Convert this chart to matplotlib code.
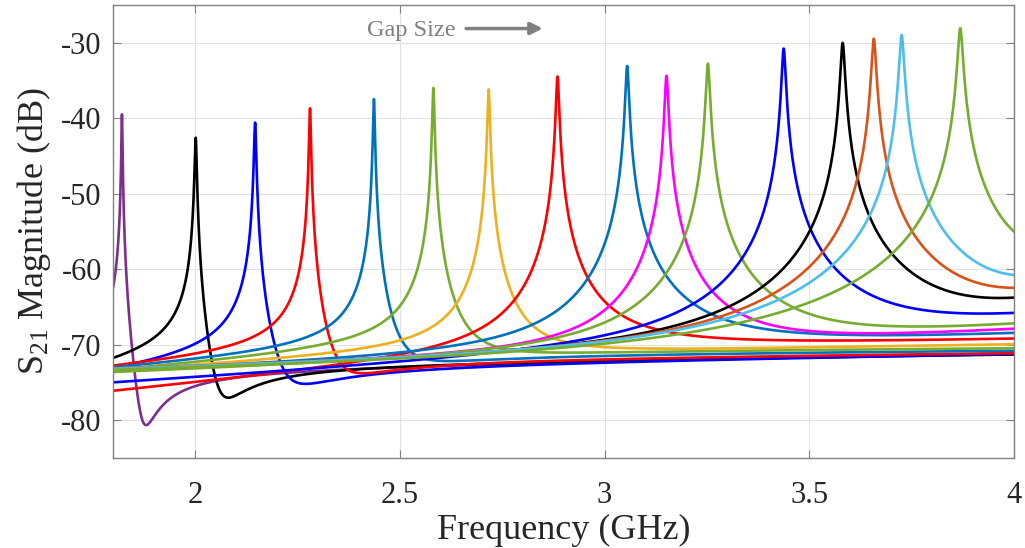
"""
S21 magnitude of the resonator for a sweep of gap sizes.
Every trace is rebuilt from values read off the measured plot:
resonance frequency, peak level, loaded Q, background phase and
background level at 1.8 GHz, under the peak and at 4 GHz.
"""

import numpy as np
import matplotlib

matplotlib.use("Agg")
import matplotlib.pyplot as plt

# ===================== DATA =====================
F_START, F_STOP = 1.8, 4.0

# resonance frequency (GHz), one per gap size
f_res = [1.822, 2.002, 2.147, 2.281, 2.437, 2.582, 2.717, 2.885,
         3.055, 3.151, 3.252, 3.437, 3.581, 3.657, 3.725, 3.868]
# peak level (dB)
peak_db = [-39.5, -42.6, -40.6, -38.7, -37.5, -36.0, -36.2, -34.5,
           -33.1, -34.4, -32.8, -30.8, -30.05, -29.5, -29.0, -28.1]
# loaded Q (sets the peak width / where the dip falls)
q_loaded = [800, 470, 490, 620, 650, 600, 550, 450,
            420, 420, 400, 420, 390, 380, 370, 360]
# phase of the background relative to the resonance (deg) -> dip depth
phase_deg = [67, 56.6, 45, 40, 30, 20, 10, 0,
             0, 0, 0, 0, 0, 0, 0, 0]
# background level (dB) at 1.8 GHz, under the peak, at 4 GHz
base_left_db = [-73.0, -74.2, -74.8, -73.8, -73.7, -73.9, -73.7, -76.4,
                -73.6, -73.5, -73.8, -75.3, -73.5, -73.4, -73.5, -73.7]
base_mid_db = [-72.9, -72.2, -72.4, -71.6, -71.0, -70.6, -70.8, -70.6,
               -70.8, -70.9, -70.9, -70.1, -71.0, -71.0, -71.0, -71.3]
base_right_db = [-70.9, -71.0, -70.9, -70.8, -70.5, -70.2, -69.8, -69.3,
                 -68.7, -68.1, -67.6, -66.7, -65.4, -64.9, -64.2, -63.6]

colors = ["#7E2F8E", "#000000", "#0000FF", "#FF0000", "#0072BD", "#77AC30",
          "#EDB120", "#FF0000", "#0072BD", "#FF00FF", "#77AC30", "#0000FF",
          "#000000", "#D95319", "#4DBEEE", "#77AC30"]

X_TICKS = [2, 2.5, 3, 3.5, 4]
X_TICKLABELS = ["2", "2.5", "3", "3.5", "4"]
Y_TICKS = [-80, -70, -60, -50, -40, -30]
# ================================================

plt.rcParams["font.family"] = ["Liberation Serif", "DejaVu Serif"]
plt.rcParams["mathtext.fontset"] = "custom"
plt.rcParams["mathtext.rm"] = "Liberation Serif"
plt.rcParams["mathtext.it"] = "Liberation Serif:italic"
plt.rcParams["axes.unicode_minus"] = False


def s21_db(freq, f0, pk, q, phi, bl, bm, br):
    # background (linear in dB through three points) + resonance
    b = 10 ** (np.interp(freq, [F_START, f0, F_STOP], [bl, bm, br]) / 20)
    ph = np.deg2rad(phi)
    p = 10 ** (pk / 20)
    b0 = 10 ** (bm / 20)
    a = np.sqrt(p ** 2 - (b0 * np.sin(ph)) ** 2) - b0 * np.cos(ph)
    res = a / (1 + 1j * q * (freq / f0 - f0 / freq))
    return 20 * np.log10(np.abs(b * np.exp(1j * ph) + res))


freq = np.linspace(F_START, F_STOP, 8801)

fig = plt.figure(figsize=(10.25, 5.48), dpi=100)
ax = fig.add_axes([0.1102, 0.1637, 0.8794, 0.8277])

for i in range(len(f_res)):
    y = s21_db(freq, f_res[i], peak_db[i], q_loaded[i], phase_deg[i],
               base_left_db[i], base_mid_db[i], base_right_db[i])
    ax.plot(freq, y, color=colors[i], linewidth=1.9)

ax.set_xlim(F_START, F_STOP)
ax.set_ylim(-85, -25)
ax.set_xticks(X_TICKS)
ax.set_xticklabels(X_TICKLABELS)
ax.set_yticks(Y_TICKS)
ax.grid(True, color="#e3e3e3", linewidth=0.8)
ax.set_axisbelow(True)

for s in ax.spines.values():
    s.set_color("#808080")
    s.set_linewidth(1.0)
ax.tick_params(direction="in", length=6, width=0.8, color="#808080",
               top=True, right=True, labelsize=22, labelcolor="#262626")
ax.tick_params(axis="x", pad=16)
ax.tick_params(axis="y", pad=8)

ax.set_xlabel("Frequency (GHz)", fontsize=26, color="#262626", labelpad=3)
ax.set_ylabel(r"S$_{21}$ Magnitude (dB)", fontsize=26, color="#262626",
              labelpad=6)

ax.text(2.421, -28.4, "Gap Size", fontsize=17.5, color="#808080",
        ha="left", va="center")
ax.annotate("", xy=(2.849, -28.15), xytext=(2.662, -28.15),
            arrowprops=dict(arrowstyle="-|>", color="#808080", lw=2.5,
                            mutation_scale=18, shrinkA=0, shrinkB=0))

fig.savefig("out.png", dpi=100, facecolor="white")
plt.close(fig)
